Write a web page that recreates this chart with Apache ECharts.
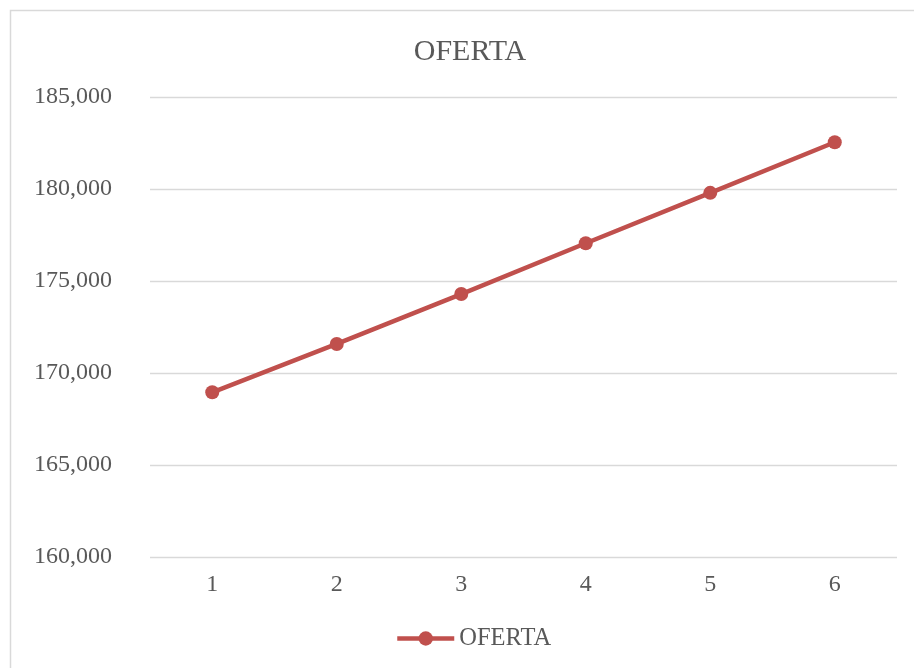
<!DOCTYPE html>
<html>
<head>
<meta charset="utf-8">
<script src="https://cdn.jsdelivr.net/npm/echarts@6/dist/echarts.min.js"></script>
<style>
html,body{margin:0;padding:0;background:#fff;}
#chart{width:914px;height:668px;}
</style>
</head>
<body>
<div id="chart"></div>
<script>
var categories = ['1', '2', '3', '4', '5', '6'];
var ofertaValues = [168950, 171580, 174290, 177050, 179790, 182540];
var seriesName = 'OFERTA';
var chartTitle = 'OFERTA';

var chart = echarts.init(document.getElementById('chart'));
var font = '"Liberation Serif", "Times New Roman", serif';
chart.setOption({
  animation: false,
  backgroundColor: '#ffffff',
  title: {
    text: chartTitle,
    left: 465, top: 47, textAlign: 'center', textVerticalAlign: 'middle',
    textStyle: {fontFamily: font, fontSize: 30, fontWeight: 'normal', color: '#595959'}
  },
  graphic: [{
    type: 'rect', silent: true,
    shape: {x: 10.5, y: 10.5, width: 1000, height: 1000},
    style: {fill: 'none', stroke: '#d9d9d9', lineWidth: 1.5}
  }],
  legend: {
    data: [seriesName],
    left: 395, top: 626, padding: 0,
    itemWidth: 57, itemHeight: 18, itemGap: 10,
    lineStyle: {width: 4.5},
    textStyle: {fontFamily: font, fontSize: 24.5, color: '#595959'}
  },
  grid: {left: 150, right: 17, top: 97, bottom: 111},
  xAxis: {
    type: 'category', data: categories, boundaryGap: true,
    axisLine: {show: false}, axisTick: {show: false},
    axisLabel: {fontFamily: font, fontSize: 24, color: '#595959', margin: 16}
  },
  yAxis: {
    type: 'value', min: 160000, max: 185000, interval: 5000,
    axisLine: {show: false}, axisTick: {show: false},
    splitLine: {lineStyle: {color: '#d9d9d9', width: 1.3}},
    axisLabel: {
      fontFamily: font, fontSize: 24, color: '#595959', margin: 38,
      formatter: function (v) { return v.toLocaleString('en-US'); }
    }
  },
  series: [{
    name: seriesName, type: 'line', data: ofertaValues,
    symbol: 'circle', symbolSize: 14,
    lineStyle: {color: '#C0504D', width: 4.5},
    itemStyle: {color: '#C0504D'}
  }]
});
</script>
</body>
</html>
